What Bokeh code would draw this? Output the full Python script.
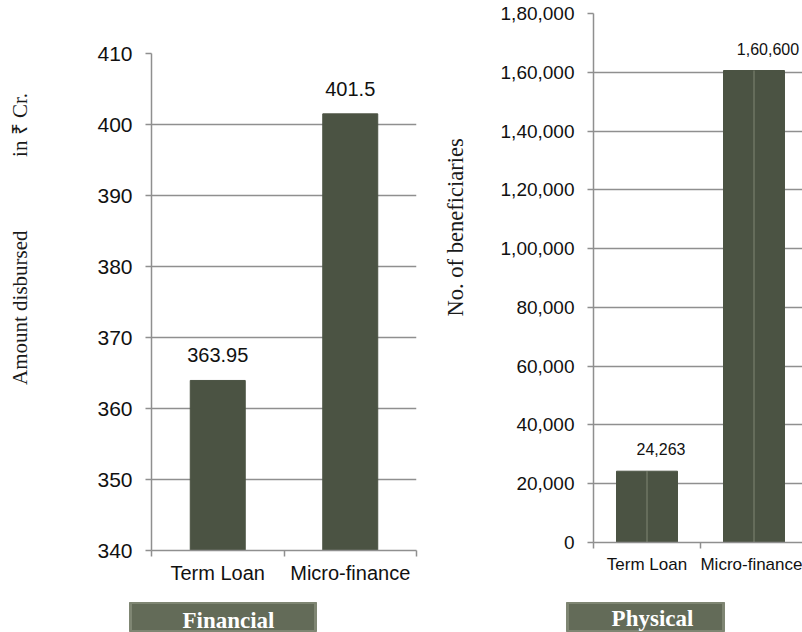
import math
from bokeh.plotting import figure
from bokeh.models import ColumnDataSource, FixedTicker, Label, LabelSet, Range1d
from bokeh.layouts import row, column
from bokeh.core.properties import value
from bokeh.embed import file_html
from bokeh.resources import INLINE

# ---------------- data ----------------
categories = ["Term Loan", "Micro-finance"]
amount_cr = [363.95, 401.5]
amount_labels = ["363.95", "401.5"]
beneficiaries = [24263, 160600]
beneficiary_labels = ["24,263", "1,60,600"]
left_yticks = [340, 350, 360, 370, 380, 390, 400, 410]
right_yticks = [0, 20000, 40000, 60000, 80000, 100000, 120000, 140000, 160000, 180000]
right_ytick_labels = ["0", "20,000", "40,000", "60,000", "80,000",
                      "1,00,000", "1,20,000", "1,40,000", "1,60,000", "1,80,000"]
left_title_a = "Amount disbursed"
left_title_b = "in ₹ Cr."
right_title = "No. of beneficiaries"
box_left = "Financial"
box_right = "Physical"

BAR = "#4b5343"
GRID = "#8f8f8f"
BOX = "#636b58"
BOX_EDGE = "#7f8673"
SANS = "Liberation Sans"
SERIF = "Liberation Serif"
NB = "\u00a0"

xpos = [i + 0.5 for i in range(len(categories))]
bounds = [float(i) for i in range(len(categories) + 1)]


def style_axes(p, yticks, ytick_font, xlabel_font, x_standoff, title_font):
    p.outline_line_color = None
    p.background_fill_color = "white"
    p.border_fill_color = "white"
    p.xgrid.visible = False
    p.ygrid.ticker = FixedTicker(ticks=yticks)
    p.ygrid.grid_line_color = GRID
    p.ygrid.grid_line_width = 1.5

    ya = p.yaxis[0]
    ya.ticker = FixedTicker(ticks=yticks)
    ya.axis_line_color = GRID
    ya.axis_line_width = 1.5
    ya.major_tick_line_color = GRID
    ya.major_tick_line_width = 1.5
    ya.major_tick_out = 6
    ya.major_tick_in = 0
    ya.minor_tick_line_color = None
    ya.major_label_standoff = 13
    ya.major_label_text_font = SANS
    ya.major_label_text_font_size = ytick_font
    ya.major_label_text_color = "#111111"
    ya.axis_label_text_font = SERIF
    ya.axis_label_text_font_style = "normal"
    ya.axis_label_text_font_size = title_font
    ya.axis_label_text_color = "#1a1a1a"

    xa = p.xaxis[0]
    xa.ticker = FixedTicker(ticks=xpos, minor_ticks=bounds)
    xa.major_label_overrides = {x: c for x, c in zip(xpos, categories)}
    xa.axis_line_color = GRID
    xa.axis_line_width = 1.5
    xa.major_tick_line_color = None
    xa.major_tick_out = 0
    xa.major_tick_in = 0
    xa.minor_tick_line_color = GRID
    xa.minor_tick_line_width = 1.5
    xa.minor_tick_out = 6
    xa.minor_tick_in = 0
    xa.major_label_standoff = x_standoff
    xa.major_label_text_font = SANS
    xa.major_label_text_font_size = xlabel_font
    xa.major_label_text_color = "#111111"


def box_fig(width, left, box_w, text, text_x, text_y):
    b = figure(width=width, height=30, x_range=Range1d(0, 1), y_range=Range1d(0, 1),
               x_axis_type=None, y_axis_type=None, output_backend="svg",
               toolbar_location=None, min_border_left=left,
               min_border_right=width - left - box_w, min_border_top=0, min_border_bottom=0)
    b.grid.visible = False
    b.background_fill_color = BOX
    b.border_fill_color = "white"
    b.outline_line_color = BOX_EDGE
    b.outline_line_width = 3
    b.add_layout(Label(x=text_x, y=text_y, x_units="screen", y_units="screen", text=text,
                       text_align="center", text_baseline="alphabetic",
                       text_font=SERIF, text_font_style="bold", text_font_size="23px",
                       text_color="white"))
    return b


# ---------------- left: financial ----------------
p1 = figure(width=420, height=602, x_range=Range1d(0, 2), y_range=Range1d(340, 410),
            output_backend="svg", toolbar_location=None,
            min_border_left=151, min_border_right=4, min_border_top=53, min_border_bottom=52)
style_axes(p1, left_yticks, "21px", "20px", 5, "21px")
p1.yaxis[0].axis_label = NB * 24 + left_title_a + NB * 14 + left_title_b
p1.yaxis[0].axis_label_standoff = 62

src1 = ColumnDataSource(dict(x=xpos, top=amount_cr, label=amount_labels))
p1.vbar(x="x", top="top", bottom=left_yticks[0], width=0.415, fill_color=BAR,
        line_color=BAR, source=src1)
p1.add_layout(LabelSet(x="x", y="top", text="label", source=src1, y_offset=25,
                       text_align="center", text_baseline="middle",
                       text_font=value(SANS), text_font_size="20px", text_color="#111111"))

# ---------------- right: physical ----------------
p2 = figure(width=382, height=602, x_range=Range1d(0, 209 / 107), y_range=Range1d(0, 180000),
            output_backend="svg", toolbar_location=None,
            min_border_left=173, min_border_right=0, min_border_top=13, min_border_bottom=60)
style_axes(p2, right_yticks, "19px", "17px", 6, "22.5px")
p2.yaxis[0].major_label_overrides = {t: s for t, s in zip(right_yticks, right_ytick_labels)}
p2.yaxis[0].axis_label = NB * 18 + right_title
p2.yaxis[0].axis_label_standoff = 30

src2 = ColumnDataSource(dict(x=xpos, top=beneficiaries, label=beneficiary_labels))
p2.vbar(x="x", top="top", bottom=0, width=0.57, fill_color=BAR, line_color=BAR, source=src2)
p2.segment(x0="x", y0=0, x1="x", y1="top", line_color="#808774", line_width=1, source=src2)
p2.add_layout(LabelSet(x="x", y="top", text="label", source=src2, y_offset=22, x_offset=14,
                       text_align="center", text_baseline="middle",
                       text_font=value(SANS), text_font_size="16px", text_color="#111111"))

# ---------------- section boxes ----------------
b1 = box_fig(420, 130, 185, box_left, 98, 12)
b2 = box_fig(382, 147, 156, box_right, 85, 14)

# each chart wrapped on its own so that their frames are not aligned to each other
layout = column(row(column(p1), column(p2)), row(b1, b2))
open("out.html", "w").write(file_html(layout, INLINE))
